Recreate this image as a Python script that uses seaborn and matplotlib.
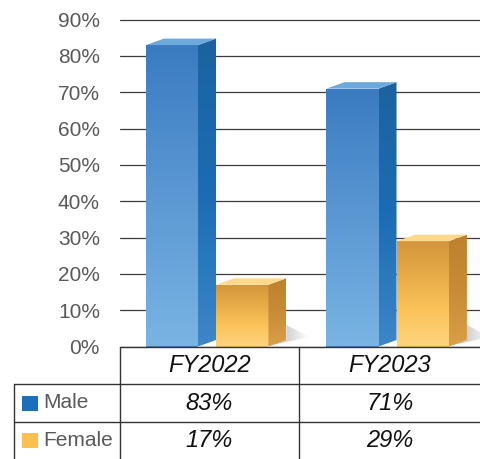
import numpy as np
import pandas as pd
import matplotlib
matplotlib.use("Agg")
import matplotlib.pyplot as plt
from matplotlib.patches import Polygon, Rectangle
from matplotlib.lines import Line2D
from matplotlib.colors import LinearSegmentedColormap
import seaborn as sns

# Data
years = ["FY2022", "FY2023"]
genders = ["Male", "Female"]
male = [83, 71]
female = [17, 29]
y_ticks = [0, 10, 20, 30, 40, 50, 60, 70, 80, 90]

df = pd.DataFrame({
    "year": years * 2,
    "gender": ["Male"] * len(years) + ["Female"] * len(years),
    "share": male + female,
})

sns.set_theme(style="white")
plt.rcParams["font.family"] = ["Liberation Sans", "DejaVu Sans"]

W, H = 481, 459
fig = plt.figure(figsize=(W / 100, H / 100), dpi=100)


def fx(px):
    return px / W


def fy(py):
    return 1 - py / H


ax = fig.add_axes([fx(120), fy(346.5), 361 / W, 345 / H])
palette = {"Male": "#3f82c6", "Female": "#f5b94e"}
sns.barplot(data=df, x="year", y="share", hue="gender", order=years,
            hue_order=genders, palette=palette, saturation=1,
            width=0.78, gap=0.26, linewidth=0, legend=False, ax=ax, zorder=3)

XL = (-0.483, 1.517)
YL = (0, 95)
ax.set_xlim(*XL)
ax.set_ylim(*YL)

# pixel scale of the axes, used for the depth of the 3D faces
px_x = 361 / (XL[1] - XL[0])
px_y = 345 / (YL[1] - YL[0])
dx = 18 / px_x
dy = 6.5 / px_y

front_maps = {
    "Male": LinearSegmentedColormap.from_list("mf", ["#79b4e3", "#5b98d3", "#3a7bc1"]),
    "Female": LinearSegmentedColormap.from_list("ff", ["#fdd47f", "#fbc35a", "#e7ab48", "#d3953a"]),
}
side_maps = {
    "Male": LinearSegmentedColormap.from_list("ms", ["#3d86c8", "#1b6cb4", "#1d62a0"]),
    "Female": LinearSegmentedColormap.from_list("fs", ["#d9a048", "#c98b35", "#bd802d"]),
}
top_colors = {"Male": "#6ea9dc", "Female": "#fdd98c"}
shadow_map = LinearSegmentedColormap.from_list("sh", ["#9a9a9a", "#ffffff"])

grad = np.linspace(0, 1, 256).reshape(-1, 1)
hgrad = np.linspace(0, 1, 256).reshape(1, -1)

bars = [p for p in ax.patches if p.get_height() > 0]
labels = [g for g in genders for _ in years]
for p, g in zip(bars, labels):
    x0 = p.get_x()
    x1 = x0 + p.get_width()
    h = p.get_height()

    # soft floor shadow to the right of the short bars
    if g == "Female":
        sx = x1 + dx
        shadow_end = sx + 23 / px_x
        shadow_top = dy + 15 / px_y
        shadow = Polygon([(x1, 0.2), (sx, dy), (sx, shadow_top),
                          (shadow_end, dy + 3 / px_y)],
                         closed=True, facecolor="none", edgecolor="none", zorder=2.5)
        ax.add_patch(shadow)
        ish = ax.imshow(hgrad, extent=(x1, shadow_end, 0, shadow_top),
                        origin="lower", aspect="auto", cmap=shadow_map,
                        alpha=0.8, zorder=2.5)
        ish.set_clip_path(shadow)

    # front face gradient
    im = ax.imshow(grad, extent=(x0, x1, 0, h), origin="lower", aspect="auto",
                   cmap=front_maps[g], zorder=3.1)
    im.set_clip_path(p)

    # right side face
    side = Polygon([(x1, 0), (x1 + dx, dy), (x1 + dx, h + dy), (x1, h)],
                   closed=True, facecolor="none", edgecolor="none", zorder=3.2)
    ax.add_patch(side)
    ims = ax.imshow(grad, extent=(x1, x1 + dx, 0, h + dy), origin="lower",
                    aspect="auto", cmap=side_maps[g], zorder=3.2)
    ims.set_clip_path(side)

    # top face
    top = Polygon([(x0, h), (x0 + dx, h + dy), (x1 + dx, h + dy), (x1, h)],
                  closed=True, facecolor=top_colors[g], edgecolor="none", zorder=3.3)
    ax.add_patch(top)

ax.set_xlim(*XL)
ax.set_ylim(*YL)

ax.set_yticks(y_ticks)
ax.set_yticklabels([f"{v}%" for v in y_ticks])
ax.yaxis.grid(True, color="#3c3c3c", linewidth=0.9)
ax.xaxis.grid(False)
ax.set_axisbelow(True)
ax.tick_params(axis="y", length=0, pad=14.4, labelsize=15, labelcolor="#595959")
ax.set_xticks([])
ax.set_xlabel("")
ax.set_ylabel("")
for s in ax.spines.values():
    s.set_visible(False)

# data table under the plot
line_kw = dict(color="#333333", linewidth=1.0, transform=fig.transFigure)


def hline(y, xa, xb):
    fig.add_artist(Line2D([fx(xa), fx(xb)], [fy(y), fy(y)], **line_kw))


def vline(x, ya, yb):
    fig.add_artist(Line2D([fx(x), fx(x)], [fy(ya), fy(yb)], **line_kw))


hline(346.5, 120, 481)
hline(384, 14, 481)
hline(421.5, 14, 481)
vline(120, 346.5, 459)
vline(299.5, 346.5, 459)
vline(14.5, 384, 459)

col_centers = [209.5, 390]
row_centers = {"Male": 403, "Female": 440.5}
legend_colors = {"Male": "#1a6fbd", "Female": "#fdbf50"}

for c, yr in zip(col_centers, years):
    fig.text(fx(c), fy(365.5), yr, ha="center", va="center", fontsize=17,
             style="italic", color="#111111")

for g, vals in zip(genders, [male, female]):
    yc = row_centers[g]
    fig.add_artist(Rectangle((fx(22), fy(yc + 7.5)), 16 / W, 15 / H,
                             facecolor=legend_colors[g], edgecolor="none",
                             transform=fig.transFigure))
    fig.text(fx(43), fy(yc), g, ha="left", va="center", fontsize=15, color="#595959")
    for c, v in zip(col_centers, vals):
        fig.text(fx(c), fy(yc), f"{v}%", ha="center", va="center", fontsize=17,
                 style="italic", color="#111111")

fig.savefig("out.png", dpi=100, facecolor="white")
